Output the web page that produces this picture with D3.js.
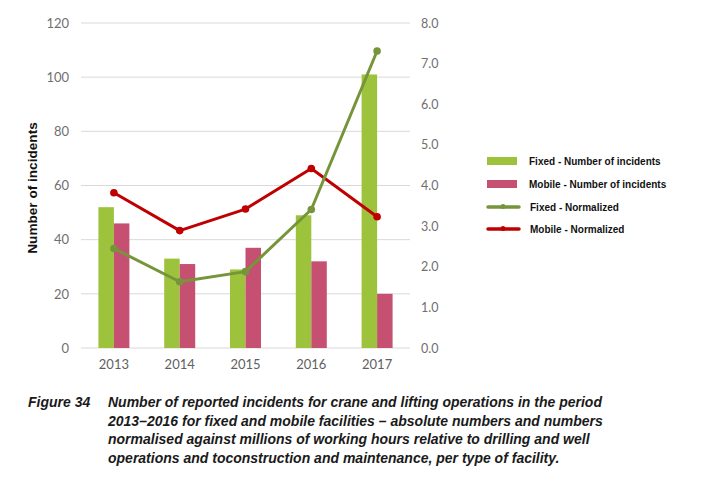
<!DOCTYPE html>
<html><head><meta charset="utf-8">
<script src="https://cdn.jsdelivr.net/npm/d3@7"></script>
<style>body{margin:0;background:#fff;} svg{display:block;}</style>
</head><body>
<svg id="c" width="702" height="480"></svg>
<script>
const years = ["2013","2014","2015","2016","2017"];
const fixedCount = [52, 33, 29, 49, 101];
const mobileCount = [46, 31, 37, 32, 20];
const fixedNorm = [2.45, 1.63, 1.88, 3.41, 7.31];
const mobileNorm = [3.82, 2.89, 3.42, 4.42, 3.23];
const leftTicks = [0, 20, 40, 60, 80, 100, 120];
const rightTicks = [0, 1, 2, 3, 4, 5, 6, 7, 8];
const legendLabels = ["Fixed - Number of incidents", "Mobile - Number of incidents", "Fixed - Normalized", "Mobile - Normalized"];
const captionLabel = "Figure 34";
const captionLines = [
  "Number of reported incidents for crane and lifting operations in the period",
  "2013\u20132016 for fixed and mobile facilities \u2013 absolute numbers and numbers",
  "normalised against millions of working hours relative to drilling and well",
  "operations and toconstruction and maintenance, per type of facility."
];

const C = {green:"#9dc33d", pink:"#c65072", gLine:"#76953a", rLine:"#c00000", grid:"#d9d9d9", tick:"#6f6f6f"};
const svg = d3.select("#c");
const L = 81, R = 410, T = 23, B = 348;
const x = d3.scaleBand().domain(years).range([L, R]).paddingInner(0).paddingOuter(0);
const yL = d3.scaleLinear().domain([0,120]).range([B, T]);
const yR = d3.scaleLinear().domain([0,8]).range([B, T]);
const bw = 15.5;

// gridlines
svg.append("g").selectAll("line").data(leftTicks).join("line")
  .attr("x1", L).attr("x2", R).attr("y1", d=>yL(d)).attr("y2", d=>yL(d))
  .attr("stroke", C.grid).attr("stroke-width", 1);

const tickFont = "Lato, 'Open Sans', sans-serif";
// left axis
const gl = svg.append("g").attr("transform", `translate(${L-12},0)`)
  .call(d3.axisLeft(yL).tickValues(leftTicks).tickSize(0).tickPadding(0));
gl.select(".domain").remove();
gl.selectAll("text").attr("font-family", tickFont).attr("font-size", 13).attr("fill", C.tick);
// right axis
const gr = svg.append("g").attr("transform", `translate(${R+11},0)`)
  .call(d3.axisRight(yR).tickValues(rightTicks).tickFormat(d3.format(".1f")).tickSize(0).tickPadding(0));
gr.select(".domain").remove();
gr.selectAll("text").attr("font-family", tickFont).attr("font-size", 12.5).attr("fill", C.tick);
// bottom axis
const gb = svg.append("g").attr("transform", `translate(0,${B+12})`)
  .call(d3.axisBottom(x).tickSize(0).tickPadding(0));
gb.select(".domain").remove();
gb.selectAll("text").attr("font-family", tickFont).attr("font-size", 13).attr("fill", "#5f5f5f").attr("dy", "0.71em");

// bars
svg.append("g").selectAll("rect").data(years).join("rect")
  .attr("x", d=>x(d)+x.bandwidth()/2-bw).attr("width", bw)
  .attr("y", (d,i)=>yL(fixedCount[i])).attr("height", (d,i)=>B-yL(fixedCount[i]))
  .attr("fill", C.green);
svg.append("g").selectAll("rect").data(years).join("rect")
  .attr("x", d=>x(d)+x.bandwidth()/2).attr("width", bw)
  .attr("y", (d,i)=>yL(mobileCount[i])).attr("height", (d,i)=>B-yL(mobileCount[i]))
  .attr("fill", C.pink);

// lines
function drawLine(vals, color){
  const pts = years.map((d,i)=>[x(d)+x.bandwidth()/2, yR(vals[i])]);
  svg.append("path").attr("d", d3.line()(pts)).attr("fill","none")
    .attr("stroke", color).attr("stroke-width", 3).attr("stroke-linejoin","round");
  svg.append("g").selectAll("circle").data(pts).join("circle")
    .attr("cx", p=>p[0]).attr("cy", p=>p[1]).attr("r", 3.8).attr("fill", color);
}
drawLine(mobileNorm, C.rLine);
drawLine(fixedNorm, C.gLine);

// y title
svg.append("text").attr("transform", "translate(37,188) rotate(-90)")
  .attr("text-anchor","middle").attr("font-family","'Liberation Sans', Arial, sans-serif")
  .attr("font-weight","bold").attr("font-size", 13.6).attr("fill","#111").text("Number of incidents");

// legend
const lg = svg.append("g").attr("font-family","'Liberation Sans', Arial, sans-serif").attr("font-weight","bold").attr("font-size", 10).attr("fill","#111");
const ly = [161, 184, 207, 229];
lg.append("rect").attr("x",487).attr("y",ly[0]-4).attr("width",30).attr("height",8).attr("fill",C.green);
lg.append("rect").attr("x",487).attr("y",ly[1]-4).attr("width",30).attr("height",8).attr("fill",C.pink);
[[C.gLine,2],[C.rLine,3]].forEach(([c,i])=>{
  lg.append("line").attr("x1",488).attr("x2",519).attr("y1",ly[i]).attr("y2",ly[i]).attr("stroke",c).attr("stroke-width",3.5).attr("stroke-linecap","round");
  lg.append("circle").attr("cx",503).attr("cy",ly[i]-0.5).attr("r",2.5).attr("fill",c);
});
legendLabels.forEach((t,i)=>{
  lg.append("text").attr("x", i<2?529:530).attr("y", ly[i]).attr("dy","0.35em").text(t);
});

// caption
const cf = "'Liberation Sans', Arial, sans-serif";
svg.append("text").attr("x",28).attr("y",407).attr("font-family",cf).attr("font-style","italic").attr("font-weight","bold").attr("font-size",14).attr("fill","#1a1a1a").text(captionLabel);
svg.append("g").selectAll("text").data(captionLines).join("text")
  .attr("x",108).attr("y",(d,i)=>407+i*18.5)
  .attr("font-family",cf).attr("font-style","italic").attr("font-weight","bold").attr("font-size",14).attr("fill","#1a1a1a").text(d=>d);
</script>
</body></html>
